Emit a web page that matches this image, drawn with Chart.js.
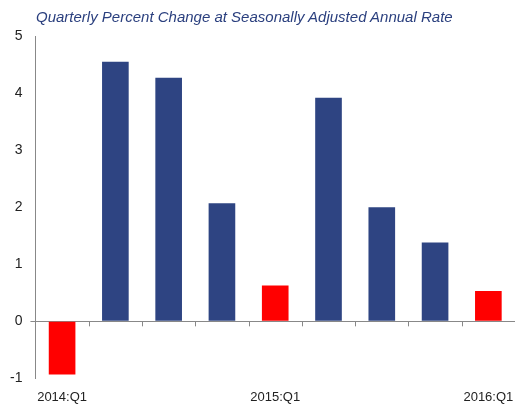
<!DOCTYPE html>
<html>
<head>
<script src="https://cdn.jsdelivr.net/npm/chart.js@4"></script>
<style>
body { margin: 0; background: #fff; }
#wrap { position: relative; width: 529px; height: 410px; }
#title { position: absolute; left: 36px; top: 8px; font: italic 15px "Liberation Sans", Arial; color: #2a3f7e; }
</style>
</head>
<body>
<div id="wrap">
<div id="title">Quarterly Percent Change at Seasonally Adjusted Annual Rate</div>
<canvas id="c" width="529" height="410"></canvas>
</div>
<script>
const quarters = ['2014:Q1', '2014:Q2', '2014:Q3', '2014:Q4', '2015:Q1', '2015:Q2', '2015:Q3', '2015:Q4', '2016:Q1'];
const values = [-0.93, 4.55, 4.27, 2.07, 0.63, 3.92, 2.0, 1.38, 0.53];
const shownLabels = ['2014:Q1', '2015:Q1', '2016:Q1'];

const zeroTicks = {
    id: 'zeroTicks',
    afterDraw(chart) {
        const ctx = chart.ctx;
        const x = chart.scales.x, y = chart.scales.y;
        const y0 = y.getPixelForValue(0);
        ctx.save();
        ctx.strokeStyle = '#888';
        ctx.lineWidth = 1;
        for (let i = 1; i < quarters.length; i++) {
            const px = Math.round((x.getPixelForValue(i - 1) + x.getPixelForValue(i)) / 2) + 0.5;
            ctx.beginPath();
            ctx.moveTo(px, y0);
            ctx.lineTo(px, y0 + 5);
            ctx.stroke();
        }
        ctx.restore();
    }
};

new Chart(document.getElementById('c'), {
    type: 'bar',
    data: {
        labels: quarters,
        datasets: [{
            data: values,
            backgroundColor: quarters.map(q => q.endsWith('Q1') ? '#ff0000' : '#2e4482'),
            barPercentage: 0.5,
            categoryPercentage: 1
        }]
    },
    options: {
        responsive: false,
        animation: false,
        layout: { padding: { top: 36, right: 14, bottom: 2, left: 2 } },
        plugins: { legend: { display: false }, tooltip: { enabled: false } },
        scales: {
            x: {
                grid: { display: false },
                border: { display: false },
                ticks: {
                    autoSkip: false,
                    maxRotation: 0,
                    color: '#222',
                    font: { family: 'Liberation Sans', size: 13 },
                    callback: function(v, i) { return shownLabels.includes(quarters[i]) ? quarters[i] : ''; }
                }
            },
            y: {
                min: -1,
                max: 5,
                ticks: { stepSize: 1, color: '#222', font: { family: 'Liberation Sans', size: 14 }, padding: 8 },
                grid: {
                    drawTicks: true,
                    tickLength: 5,
                    color: ctx => ctx.tick && ctx.tick.value === 0 ? '#888' : 'rgba(0,0,0,0)'
                },
                border: { display: true, color: '#888' }
            }
        }
    },
    plugins: [zeroTicks]
});
</script>
</body>
</html>
